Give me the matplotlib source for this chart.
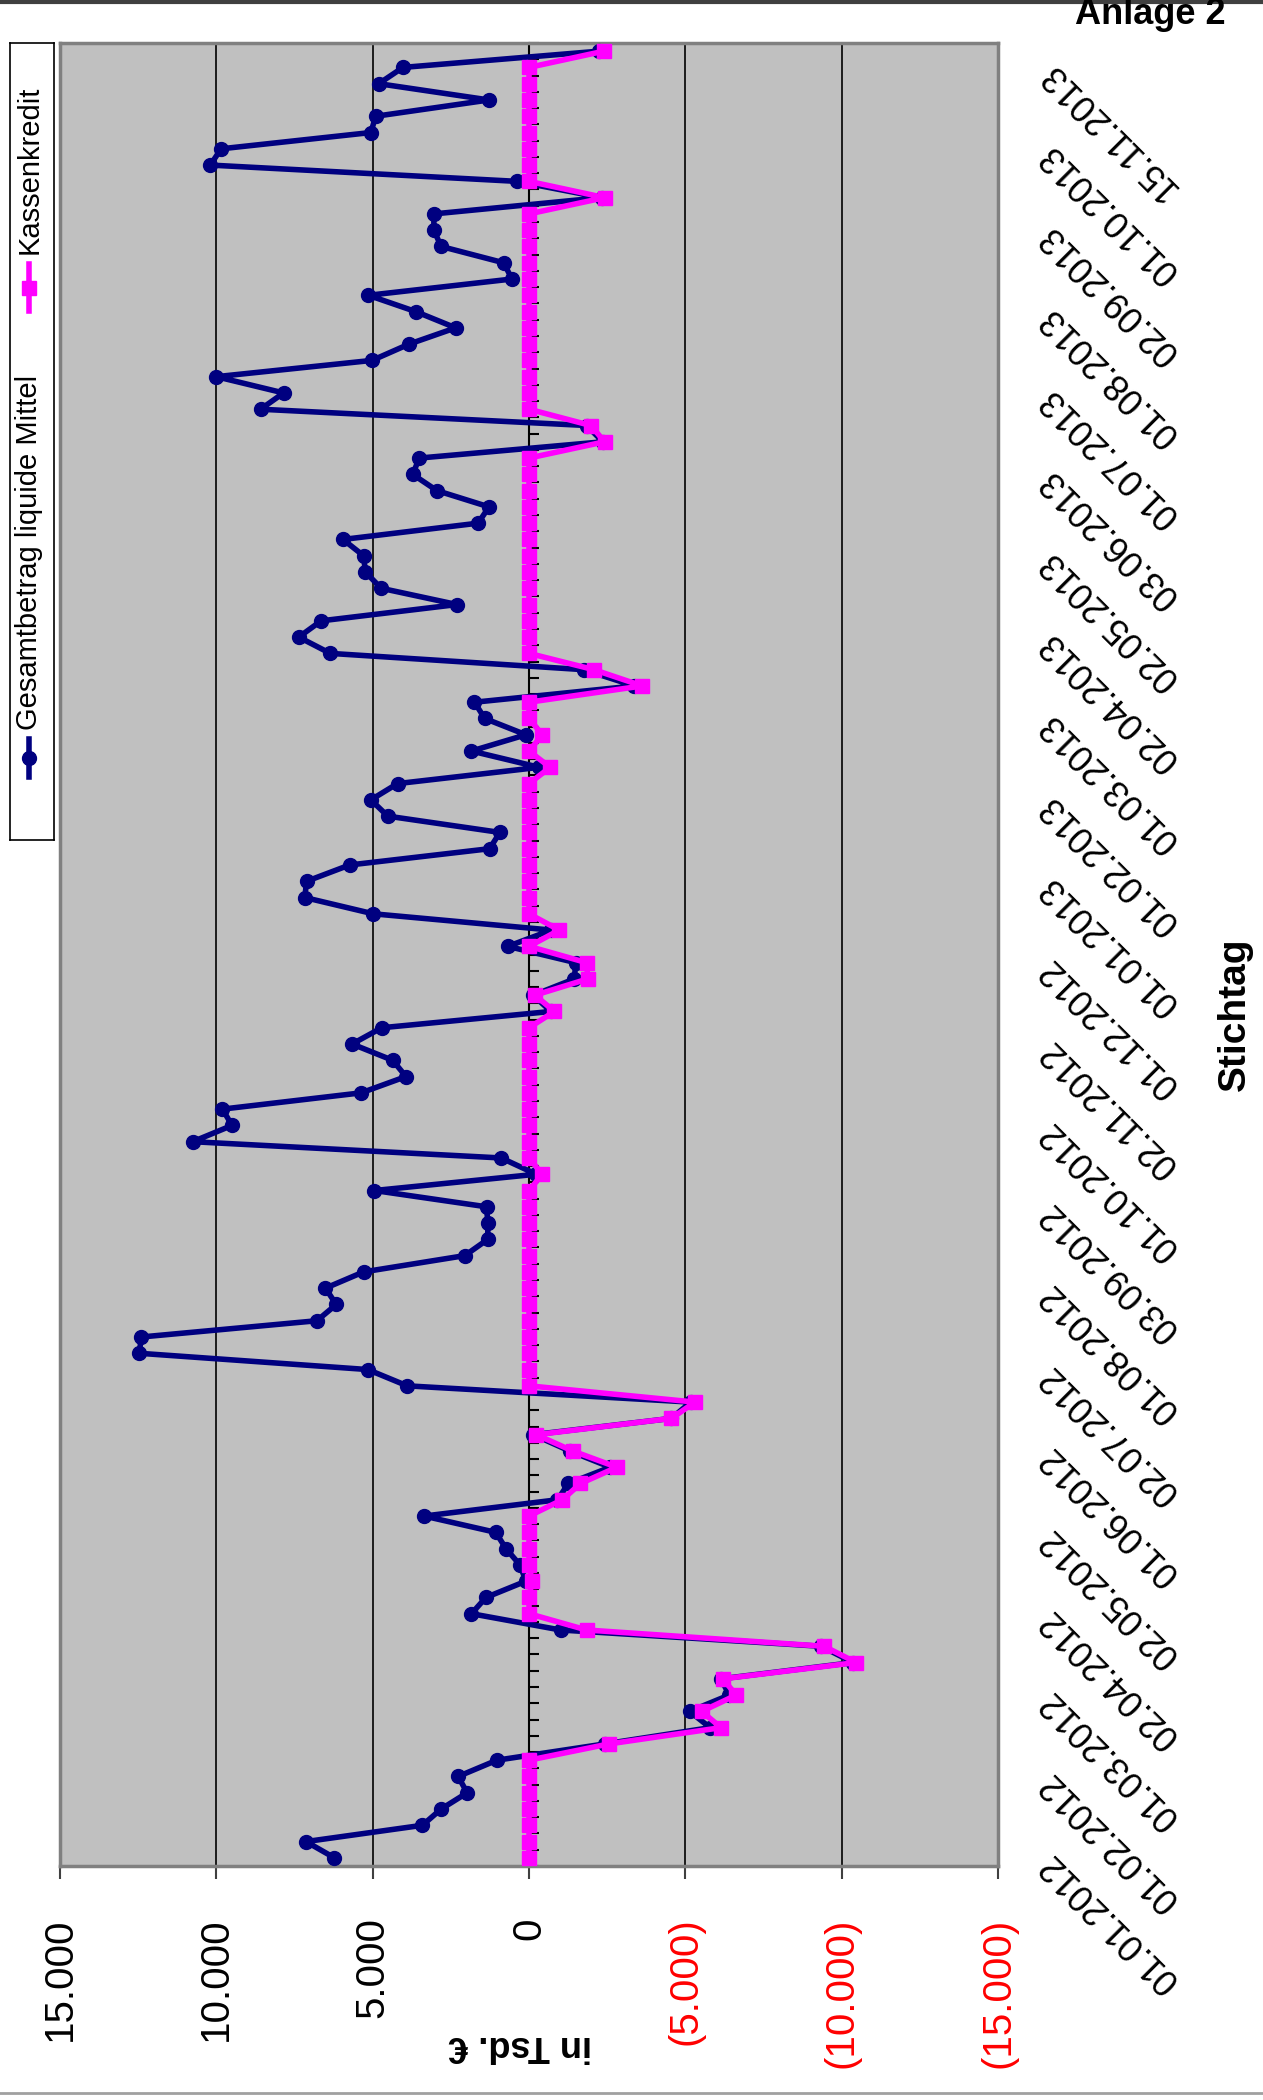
import matplotlib
matplotlib.use('Agg')
import matplotlib.pyplot as plt
from matplotlib.lines import Line2D
import numpy as np

# ---------------- data (chronological, one value per category) ----------------
dates = ['01.01.2012', '01.02.2012', '01.03.2012', '02.04.2012', '02.05.2012',
         '01.06.2012', '02.07.2012', '01.08.2012', '03.09.2012', '01.10.2012',
         '02.11.2012', '01.12.2012', '01.01.2013', '01.02.2013', '01.03.2013',
         '02.04.2013', '02.05.2013', '03.06.2013', '01.07.2013', '01.08.2013',
         '02.09.2013', '01.10.2013', '15.11.2013']

gesamt = [6221, 7132, 3411, 2810, 1977, 2268, 1027, -2422, -5795, -5136,
          -6400, -6143, -10369, -9341, -1008, 1841, 1376, 97, 291, 736,
          1066, 3353, -911, -1260, -2600, -1298, -136, -4554, -5175, 3895,
          5155, 12461, 12403, 6783, 6163, 6512, 5291, 2054, 1318, 1318,
          1357, 4942, -233, 891, 10756, 9496, 9806, 5368, 3934, 4360,
          5659, 4709, -700, -136, -1453, -1492, 678, -717, 4981, 7171,
          7112, 5736, 1260, 930, 4516, 5058, 4205, -329, 1841, 97,
          1415, 1744, -3372, -1744, 6356, 7364, 6647, 2306, 4729, 5233,
          5291, 5950, 1628, 1279, 2946, 3721, 3508, -2364, -1841, 8585,
          7849, 10000, 5019, 3837, 2345, 3624, 5136, 543, 814, 2810,
          3043, 3043, -2326, 388, 10194, 9845, 5058, 4903, 1279, 4806,
          4031, -2250]

kassenkredit = [0, 0, 0, 0, 0, 0, 0, -2558, -6143, -5523,
                -6628, -6201, -10465, -9438, -1841, 0, 0, -100, 0, 0,
                0, 0, -1066, -1647, -2810, -1395, -233, -4554, -5310, 0,
                0, 0, 0, 0, 0, 0, 0, 0, 0, 0,
                0, 0, -426, 0, 0, 0, 0, 0, 0, 0,
                0, 0, -814, -190, -1880, -1841, 0, -969, 0, 0,
                0, 0, 0, 0, 0, 0, 0, -678, 0, -426,
                0, 0, -3624, -2074, 0, 0, 0, 0, 0, 0,
                0, 0, 0, 0, 0, 0, 0, -2420, -1977, 0,
                0, 0, 0, 0, 0, 0, 0, 0, 0, 0,
                0, 0, -2420, 0, 0, 0, 0, 0, 0, 0,
                0, -2400]

value_ticks = [15000, 10000, 5000, 0, -5000, -10000, -15000]
value_labels = ['15.000', '10.000', '5.000', '0', '(5.000)', '(10.000)', '(15.000)']
label_step = 5
series_names = ['Gesamtbetrag liquide Mittel', 'Kassenkredit']

# ---------------- styling ----------------
plt.rcParams['font.family'] = ['Liberation Sans', 'DejaVu Sans']
NAVY = '#000080'
MAGENTA = '#FF00FF'
W, H = 1263, 2100

fig = plt.figure(figsize=(W / 100, H / 100), dpi=100)
fig.patch.set_facecolor('white')

ax = fig.add_axes([60 / W, 234 / H, 938 / W, 1823 / H])
ax.set_facecolor('#C0C0C0')

cats = np.arange(len(gesamt))
ax.plot(gesamt, cats, color=NAVY, lw=4, marker='o', ms=10, zorder=3)
ax.plot(kassenkredit, cats, color=MAGENTA, lw=4, marker='s', ms=10, zorder=4)

ax.set_xlim(15000, -15000)
ax.set_ylim(-0.5, len(gesamt) - 0.5)

# value axis (bottom)
ax.set_xticks(value_ticks)
ax.set_xticklabels(value_labels)
for lbl, v in zip(ax.get_xticklabels(), value_ticks):
    lbl.set_color('red' if v < 0 else 'black')
    lbl.set_rotation(90)
    lbl.set_rotation_mode('anchor')
    lbl.set_ha('right')
    lbl.set_va('center')
ax.tick_params(axis='x', length=9, width=1.5, color='#404040', pad=28, labelsize=29)
ax.grid(axis='x', color='black', lw=1.2)
ax.set_axisbelow(True)

# category axis labels (right side)
ax.yaxis.tick_right()
ax.set_yticks(cats[::label_step])
ax.set_yticklabels(dates)
for lbl in ax.get_yticklabels():
    lbl.set_rotation(135)
    lbl.set_rotation_mode('anchor')
    lbl.set_ha('right')
    lbl.set_va('center')
ax.tick_params(axis='y', length=0, pad=34, labelsize=26)

for s in ax.spines.values():
    s.set_color('#808080')
    s.set_linewidth(2.5)

# category axis line at value 0 with tick marks between categories
sec = ax.secondary_yaxis(0.5)
sec.patch.set_visible(False)
sec.set_yticks(np.arange(-0.5, len(gesamt), 1.0))
sec.tick_params(axis='y', labelright=False, labelleft=False, length=7, width=1.5,
                color='black', direction='out')
for s in sec.spines.values():
    s.set_color('black')
    s.set_linewidth(1.5)

# axis titles
fig.text(520 / W, 1 - 2045 / H, 'in Tsd. €', rotation=180, ha='center', va='center',
         fontsize=26, fontweight='bold')
fig.text(1235 / W, 1 - 1014 / H, 'Stichtag', rotation=90, ha='center', va='center',
         fontsize=28, fontweight='bold')
fig.text(1075 / W, 1 - 24 / H, 'Anlage 2', ha='left', va='baseline',
         fontsize=26, fontweight='bold')

# legend (rotated)
lg = fig.add_axes([10 / W, (H - 840) / H, 44 / W, 797 / H])
lg.set_xlim(0, 1)
lg.set_ylim(0, 797)
lg.set_xticks([])
lg.set_yticks([])
lg.set_facecolor('white')
for s in lg.spines.values():
    s.set_color('black')
    s.set_linewidth(1.2)
lg.plot([0.44, 0.44], [63, 101], color=NAVY, lw=4)
lg.plot([0.44], [82], color=NAVY, marker='o', ms=10)
lg.text(0.44, 110, series_names[0], rotation=90, rotation_mode='anchor',
        ha='left', va='center', fontsize=21)
lg.plot([0.44, 0.44], [529, 576], color=MAGENTA, lw=4)
lg.plot([0.44], [552], color=MAGENTA, marker='s', ms=10)
lg.text(0.44, 586, series_names[1], rotation=90, rotation_mode='anchor',
        ha='left', va='center', fontsize=21)

# page border lines
fig.add_artist(Line2D([0, 1], [1 - 1.5 / H, 1 - 1.5 / H], transform=fig.transFigure,
                      color='#404040', lw=3))
fig.add_artist(Line2D([0, 1], [1 - 2093 / H, 1 - 2093 / H], transform=fig.transFigure,
                      color='#A0A0A0', lw=2))

fig.savefig('out.png', dpi=100)
